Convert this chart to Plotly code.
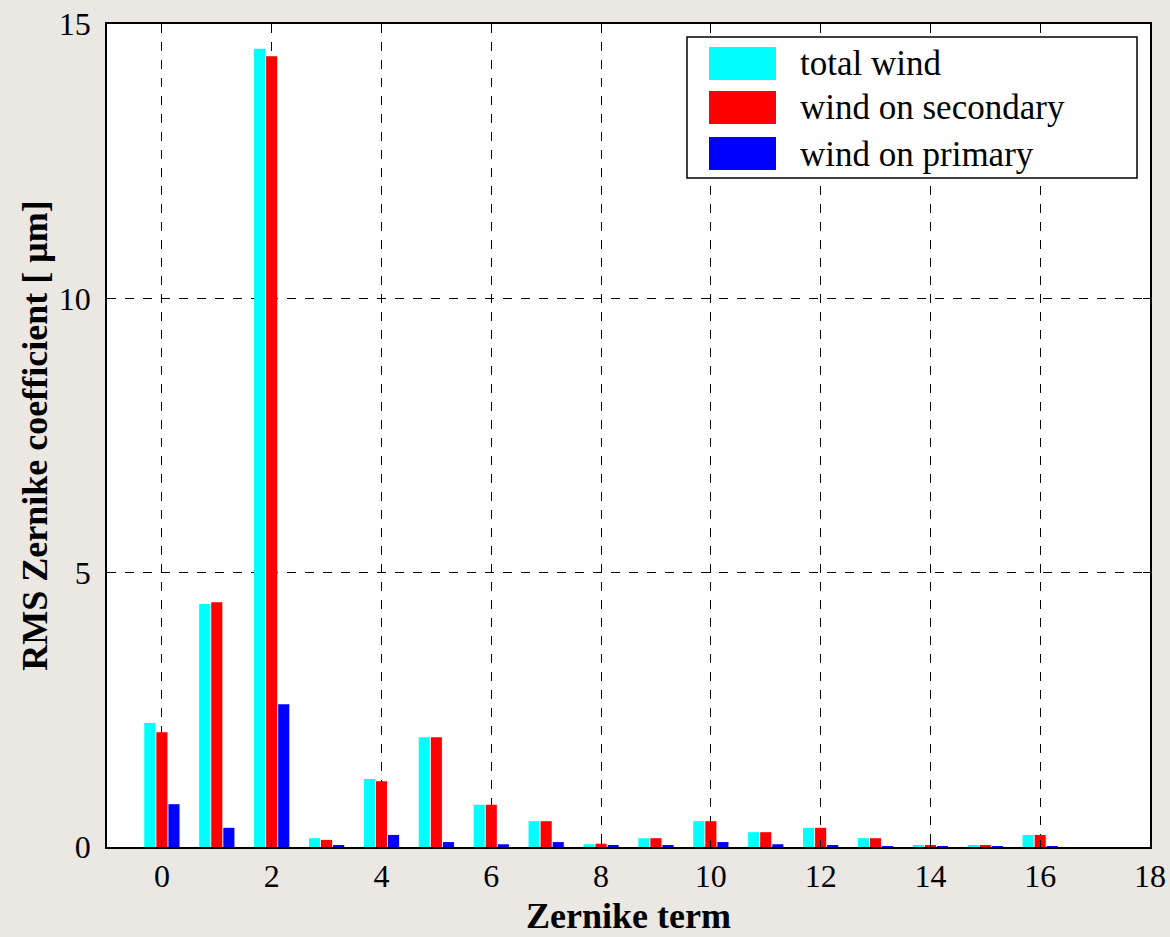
import plotly.graph_objects as go

# Zernike terms and RMS coefficients [um]
terms = list(range(17))
total_wind = [2.26, 4.43, 14.55, 0.16, 1.24, 2.00, 0.77, 0.47, 0.05, 0.16,
              0.47, 0.27, 0.35, 0.16, 0.02, 0.02, 0.22]
wind_secondary = [2.09, 4.46, 14.41, 0.13, 1.20, 2.00, 0.77, 0.47, 0.06, 0.16,
                  0.47, 0.27, 0.35, 0.16, 0.02, 0.02, 0.22]
wind_primary = [0.78, 0.35, 2.60, 0.02, 0.22, 0.09, 0.05, 0.09, 0.02, 0.02,
                0.09, 0.05, 0.02, 0.01, 0.01, 0.01, 0.01]

series_names = ['total wind', 'wind on secondary', 'wind on primary']
series_colors = ['#00ffff', '#ff0000', '#0000ff']

W, H = 1170, 937
L, R, T, B = 107, 1150, 24, 847  # plot area in pixels

def px_x(x):
    return (x - L) / (R - L)

def px_y(y):
    return (B - y) / (B - T)

serif = 'Liberation Serif, Times New Roman, serif'

fig = go.Figure()
for name, vals, col in zip(series_names, [total_wind, wind_secondary, wind_primary], series_colors):
    fig.add_trace(go.Bar(x=terms, y=vals, name=name, marker_color=col,
                         marker_line_width=0, showlegend=False))

# Hand-drawn legend box (MATLAB style, big swatches)
fig.add_shape(type='rect', xref='paper', yref='paper',
              x0=px_x(687), x1=px_x(1137), y0=px_y(178), y1=px_y(37),
              line=dict(color='black', width=1.5), fillcolor='white', layer='above')
sw_tops = [47, 91, 137]
for name, col, top in zip(series_names, series_colors, sw_tops):
    fig.add_shape(type='rect', xref='paper', yref='paper',
                  x0=px_x(709), x1=px_x(776), y0=px_y(top + 33), y1=px_y(top),
                  line=dict(width=0), fillcolor=col, layer='above')
    fig.add_annotation(xref='paper', yref='paper', x=px_x(798), y=px_y(top + 17),
                       text=name, showarrow=False, xanchor='left', yanchor='middle',
                       font=dict(family=serif, size=35, color='black'))

fig.update_layout(
    width=W, height=H,
    margin=dict(l=L, r=W - R, t=T, b=H - B),
    paper_bgcolor='#ebe7e3',
    plot_bgcolor='white',
    barmode='group',
    bargap=0.34,
    bargroupgap=0.08,
    showlegend=False,
)

fig.update_xaxes(
    range=[-1, 18], tickmode='array', tickvals=list(range(0, 19, 2)),
    showline=True, linecolor='black', linewidth=1.5, mirror='ticks',
    ticks='inside', ticklen=7, tickcolor='black',
    showgrid=True, gridcolor='black', griddash='dash', gridwidth=1,
    zeroline=False, ticklabeloverflow='allow', automargin=False,
    tickfont=dict(family=serif, size=32, color='black'),
    title=dict(text='<b>Zernike term</b>', standoff=10,
               font=dict(family=serif, size=36, color='black')),
)
fig.update_yaxes(
    range=[0, 15], tickmode='array', tickvals=[0, 5, 10, 15],
    showline=True, linecolor='black', linewidth=1.5, mirror='ticks',
    ticks='inside', ticklen=7, tickcolor='black',
    showgrid=True, gridcolor='black', griddash='dash', gridwidth=1,
    zeroline=False, ticklabelstandoff=8, ticklabeloverflow='allow', automargin=False,
    tickfont=dict(family=serif, size=32, color='black'),
    title=dict(text='<b>RMS Zernike coefficient [ μm]</b>', standoff=0,
               font=dict(family=serif, size=36, color='black')),
)

# drop the default page margin so the figure fills the window
fig.write_html('out.html', config={'displayModeBar': False},
               post_script="document.body.style.margin='0';")
